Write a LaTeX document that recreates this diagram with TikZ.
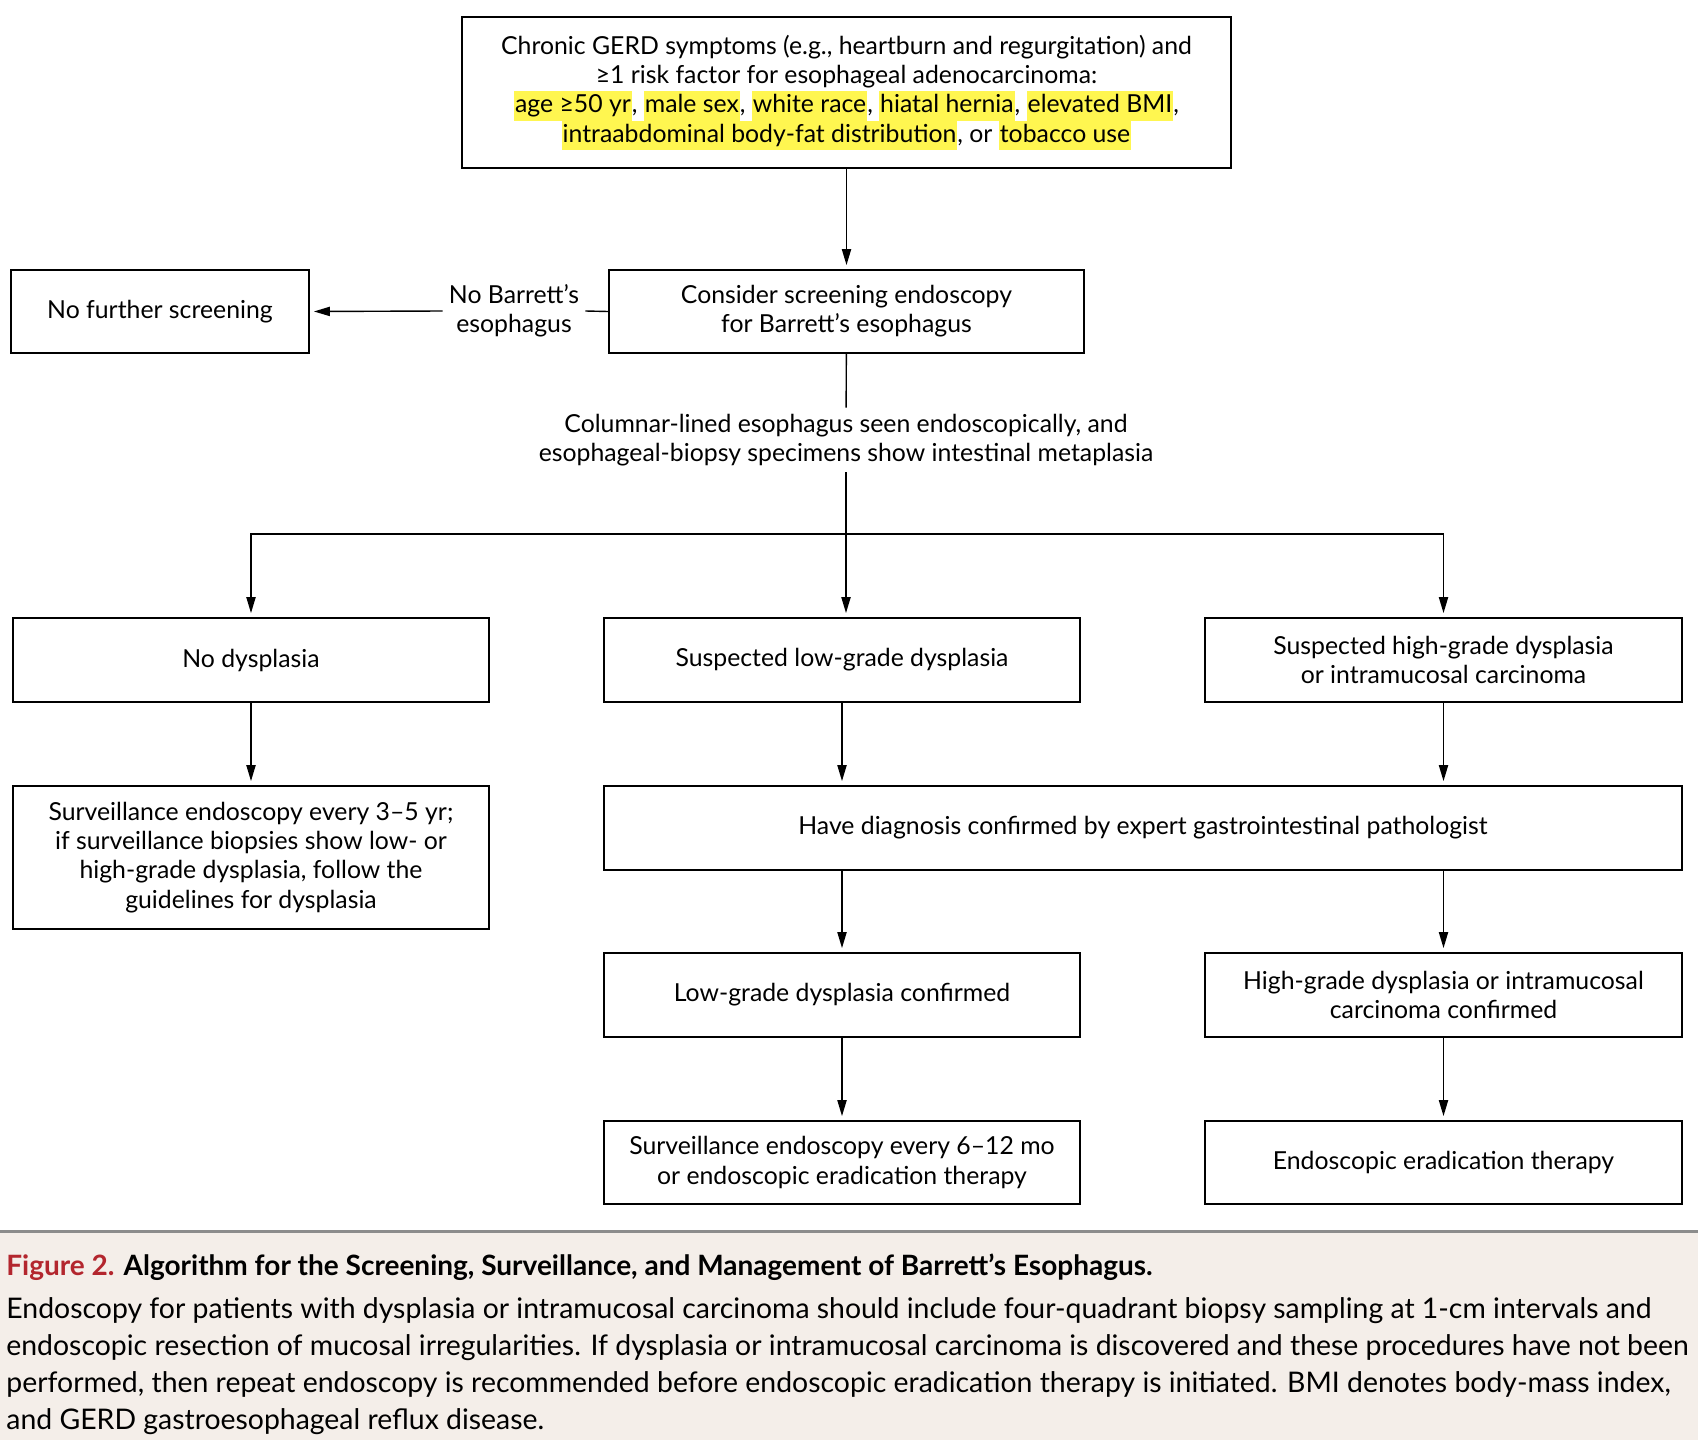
\documentclass[tikz,border=0pt]{standalone}
\usepackage{fontspec}
\setmainfont{Lato}
\usetikzlibrary{arrows.meta}
\definecolor{hlyellow}{HTML}{FFF650}
\definecolor{capbg}{HTML}{F4EEE9}
\definecolor{figred}{HTML}{B3262E}
\definecolor{rulegray}{HTML}{8C8C8C}
\newcommand{\hlt}[1]{{\setlength{\fboxsep}{0.5pt}\colorbox{hlyellow}{\rule[-3.4pt]{0pt}{13.6pt}#1}}}
\tikzset{
  box/.style={draw, line width=0.9pt, align=center, inner sep=2pt},
  lbl/.style={align=center, inner sep=3pt},
  arr/.style={-{Triangle[length=8pt,width=4.6pt]}, line width=0.7pt, shorten >=2pt},
  conn/.style={line width=0.7pt},
}
\begin{document}
\begin{tikzpicture}[x=0.5pt, y=-0.5pt, every node/.style={font=\fontsize{12.4}{14.6}\selectfont}]
\useasboundingbox (0,0) rectangle (1698,1440);
\fill[white] (0,0) rectangle (1698,1440);
% top and screening
\node[box, minimum width=384.5pt, minimum height=75.5pt] (gerd) at (846.5,92.5)
  {Chronic GERD symptoms (e.g., heartburn and regurgitation) and\\
   ≥1 risk factor for esophageal adenocarcinoma:\\
   \hlt{age ≥50 yr}, \hlt{male sex}, \hlt{white race}, \hlt{hiatal hernia}, \hlt{elevated BMI},\\
   \hlt{intraabdominal body-fat distribution}, or \hlt{tobacco use}};
\node[box, minimum width=237.5pt, minimum height=41.5pt] (consider) at (846.5,311.5)
  {Consider screening endoscopy\\for Barrett’s esophagus};
\node[box, minimum width=149pt, minimum height=41.5pt] (nofurther) at (160,311.5)
  {No further screening};
\node[lbl] (nobarrett) at (514,311) {No Barrett’s\\esophagus};
\node[lbl] (columnar) at (846,440)
  {Columnar-lined esophagus seen endoscopically, and\\
   esophageal-biopsy specimens show intestinal metaplasia};
\coordinate (split) at (846,534);
% first row
\node[box, minimum width=238pt, minimum height=42pt] (nodys) at (251,660) {No dysplasia};
\node[box, minimum width=238pt, minimum height=42pt] (lowsus) at (842,660) {Suspected low-grade dysplasia};
\node[box, minimum width=238.5pt, minimum height=42pt] (highsus) at (1443.5,660)
  {Suspected high-grade dysplasia\\or intramucosal carcinoma};
% second row
\node[box, minimum width=238pt, minimum height=71.5pt] (surv) at (251,857.5)
  {Surveillance endoscopy every 3--5 yr;\\
   if surveillance biopsies show low- or\\
   high-grade dysplasia, follow the\\
   guidelines for dysplasia};
\node[box, minimum width=539pt, minimum height=42pt] (expert) at (1143,828)
  {Have diagnosis confirmed by expert gastrointestinal pathologist};
% third and fourth rows
\node[box, minimum width=238pt, minimum height=42pt] (lowconf) at (842,995) {Low-grade dysplasia confirmed};
\node[box, minimum width=238.5pt, minimum height=42pt] (highconf) at (1443.5,995)
  {High-grade dysplasia or intramucosal\\carcinoma confirmed};
\node[box, minimum width=238pt, minimum height=41.5pt] (survlow) at (842,1162.5)
  {Surveillance endoscopy every 6--12 mo\\or endoscopic eradication therapy};
\node[box, minimum width=238.5pt, minimum height=41.5pt] (eradic) at (1443.5,1162.5)
  {Endoscopic eradication therapy};
% connectors
\draw[arr] (gerd) -- (consider);
\draw[conn] (consider.west) -- (nobarrett.east);
\draw[arr] (nobarrett.west) -- (nofurther.east);
\draw[conn] (consider) -- (columnar);
\draw[conn] (columnar) -- (split);
\draw[arr] (split) -| (nodys.north);
\draw[arr] (split) -- (split |- lowsus.north);
\draw[arr] (split) -| (highsus.north);
\draw[arr] (nodys) -- (surv);
\draw[arr] (lowsus) -- (lowsus.south |- expert.north);
\draw[arr] (highsus) -- (highsus.south |- expert.north);
\draw[arr] (lowconf.north |- expert.south) -- (lowconf);
\draw[arr] (highconf.north |- expert.south) -- (highconf);
\draw[arr] (lowconf) -- (survlow);
\draw[arr] (highconf) -- (eradic);
% caption
\fill[capbg] (0,1231) rectangle (1698,1440);
\draw[rulegray, line width=1.5pt] (0,1231) -- (1698,1231);
\node[anchor=base west, inner sep=0pt, font=\fontsize{14}{18.5}\selectfont\bfseries] (captitle) at (6,1275)
  {\textcolor{figred}{Figure 2.} Algorithm for the Screening, Surveillance, and Management of Barrett’s Esophagus.};
\node[anchor=north west, inner sep=0pt, align=left, font=\fontsize{14.2}{18.5}\selectfont] (capbody) at (6,1297)
  {Endoscopy for patients with dysplasia or intramucosal carcinoma should include four-quadrant biopsy sampling at 1-cm intervals and\\
   endoscopic resection of mucosal irregularities. If dysplasia or intramucosal carcinoma is discovered and these procedures have not been\\
   performed, then repeat endoscopy is recommended before endoscopic eradication therapy is initiated. BMI denotes body-mass index,\\
   and GERD gastroesophageal reflux disease.};
\end{tikzpicture}
\end{document}
